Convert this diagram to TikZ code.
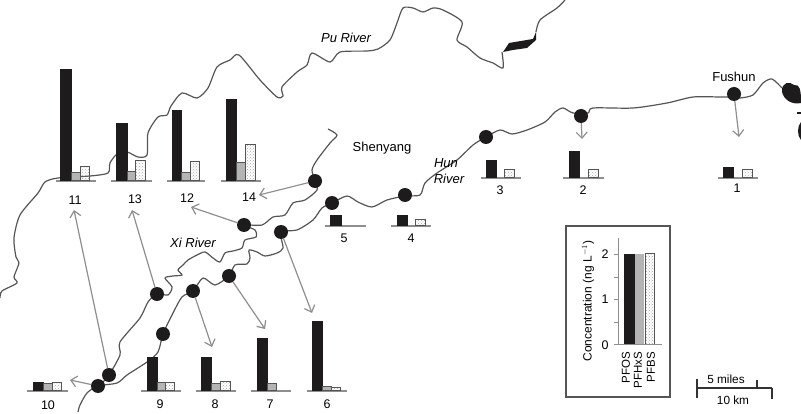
\documentclass[tikz,border=0pt]{standalone}
\usepackage{fontspec}
\setmainfont{Liberation Sans}
\usetikzlibrary{arrows.meta,patterns}
\definecolor{barblack}{HTML}{1E1B1C}
\definecolor{bargray}{HTML}{B4B4B4}
\definecolor{rivercol}{HTML}{555555}
\definecolor{flowcol}{HTML}{8E8E8E}
\begin{document}
\begin{tikzpicture}[x=1pt,y=-1pt,
  site/.style={circle,fill=barblack,inner sep=0pt,minimum size=14pt},
  txt/.style={inner sep=0pt,font=\fontsize{12.5}{13}\selectfont},
  place/.style={txt,font=\fontsize{13}{14}\selectfont},
  rivername/.style={txt,font=\fontsize{13}{14}\selectfont\itshape},
  river/.style={draw=rivercol,line width=1.2pt,line join=round},
  flow/.style={draw=flowcol,line width=1.2pt,-{Straight Barb[length=6pt,width=11pt]}},
  base/.style={draw=flowcol,line width=1.2pt},
  pfos/.style={fill=barblack,draw=barblack,line width=.5pt},
  pfhxs/.style={fill=bargray,draw=rivercol,line width=.6pt},
  pfbs/.style={pattern=crosshatch dots,pattern color=gray!70,draw=rivercol,line width=1pt}
  ]
    \useasboundingbox (0,0) rectangle (801,414);

    % rivers
    \draw[river] plot[smooth,tension=.45] coordinates {(0,298) (2,291) (17,283) (14,277) (19,263) (16,257) (14,238) (20,215) (38,193) (45,182) (58,178) (90,176) (108,173) (110,163) (117,154) (127,152) (138,157) (147,155) (148,133) (158,117) (167,115) (171,106) (182,93) (197,98) (208,88) (217,67) (230,60) (239,55) (260,80) (277,97) (283,96) (282,87) (297,72) (307,65) (312,53) (330,62) (340,52) (367,51) (378,49) (390,40) (397,23) (403,8) (413,8) (423,12) (433,8) (443,10) (462,22) (457,40) (467,47) (480,58) (493,63) (503,68) (502,52)};
    \draw[river] plot[smooth,tension=.45] coordinates {(536,32) (540,20) (557,8) (565,0)};
    \fill[barblack] (503,52) -- (509,43) -- (533,39) -- (536,32) -- (536,40) -- (527,48) -- (513,50) -- cycle;
    \draw[river] plot[smooth,tension=.45] coordinates {(782,88) (772,79) (763,83) (753,95) (740,98) (734,97) (720,97) (693,97) (667,103) (633,108) (593,108) (588,113) (573,113) (563,108) (555,112) (545,122) (527,130) (512,134) (500,130) (486,137) (473,145) (457,160) (437,173) (425,183) (420,195) (405,196) (387,200) (372,207) (358,202) (347,196) (332,203) (322,208) (313,220) (297,230) (281,232) (283,248) (277,253) (265,256) (257,252) (249,250) (250,258) (247,264) (235,265) (229,276) (215,285) (203,278) (193,291) (182,297) (172,315) (163,334) (158,352) (147,362) (127,375) (117,383) (98,386) (87,393) (80,405) (78,412)};
    \draw[river] plot[smooth,tension=.45] coordinates {(328,129) (337,135) (330,143) (317,160) (312,170) (315,181) (317,190) (305,200) (293,203) (285,215) (273,217) (262,225) (244,225) (255,230) (256,237) (245,240) (242,248) (233,251) (225,253) (220,262) (213,258) (205,252) (197,255) (188,260) (183,265) (178,270) (182,275) (173,276) (165,278) (172,287) (168,295) (157,294) (148,302) (140,318) (120,342) (120,355) (109,375) (100,385)};
    \fill[barblack] (782,92) .. controls (781,82) and (790,81) .. (794,85) .. controls (800,84) and (801,90) .. (801,103) .. controls (792,105) and (784,100) .. (782,92) -- cycle;
    \fill[barblack] (797,112) rectangle (801,114);
    \fill[barblack] (801,122) .. controls (797,126) and (797,136) .. (801,140) -- cycle;

    % stations
    \node[site] (s1) at (734,94) {};
    \node[site] (s2) at (581,116) {};
    \node[site] (s3) at (486,137) {};
    \node[site] (s4) at (405,195) {};
    \node[site] (s5) at (332,203) {};
    \node[site] (s6) at (281,232) {};
    \node[site] (s7) at (229,276) {};
    \node[site] (s8) at (193,291) {};
    \node[site] (s9) at (163,334) {};
    \node[site] (s10) at (98,386) {};
    \node[site] (s11) at (109,375) {};
    \node[site] (s12) at (244,225) {};
    \node[site] (s13) at (157,294) {};
    \node[site] (s14) at (315,181) {};

    % arrow ends
    \coordinate (e1) at (739,137);
    \coordinate (e2) at (582,139);
    \coordinate (e6) at (312,313);
    \coordinate (e7) at (265,329);
    \coordinate (e8) at (212,347);
    \coordinate (e10) at (70,380);
    \coordinate (e11) at (74,210);
    \coordinate (e12) at (191,207);
    \coordinate (e13) at (132,210);
    \coordinate (e14) at (259,195);
    \draw[flow] (s1) -- (e1);
    \draw[flow] (s2) -- (e2);
    \draw[flow] (s6) -- (e6);
    \draw[flow] (s7) -- (e7);
    \draw[flow] (s8) -- (e8);
    \draw[flow] (s10) -- (e10);
    \draw[flow] (s11) -- (e11);
    \draw[flow] (s12) -- (e12);
    \draw[flow] (s13) -- (e13);
    \draw[flow] (s14) -- (e14);

    % bars, top row
    \draw[base] (56,181) -- (96,181);
    \draw[pfos] (60,180.5) rectangle (71,69);
    \draw[pfhxs] (71,180.5) rectangle (80,172);
    \draw[pfbs] (80,180.5) rectangle (89,167);
    \draw[base] (111,181) -- (152,181);
    \draw[pfos] (116,180.5) rectangle (127,123);
    \draw[pfhxs] (127,180.5) rectangle (135,171);
    \draw[pfbs] (135,180.5) rectangle (145,161);
    \draw[base] (167,181) -- (205,181);
    \draw[pfos] (172,180.5) rectangle (181,110);
    \draw[pfhxs] (181,180.5) rectangle (190,172);
    \draw[pfbs] (190,180.5) rectangle (199,162);
    \draw[base] (221,181) -- (261,181);
    \draw[pfos] (226,180.5) rectangle (236,99);
    \draw[pfhxs] (236,180.5) rectangle (245,162);
    \draw[pfbs] (245,180.5) rectangle (255,145);
    \draw[base] (481,178) -- (521,178);
    \draw[pfos] (486,177.5) rectangle (496,160);
    \draw[pfbs] (504,177.5) rectangle (514,170);
    \draw[base] (563,178) -- (604,178);
    \draw[pfos] (569,177.5) rectangle (579,151);
    \draw[pfbs] (588,177.5) rectangle (598,170);
    \draw[base] (718,178) -- (758,178);
    \draw[pfos] (723,177.5) rectangle (733,167);
    \draw[pfbs] (742,177.5) rectangle (752,170);
    \draw[base] (325,226) -- (366,226);
    \draw[pfos] (330,225.5) rectangle (341,215);
    \draw[base] (391,226) -- (431,226);
    \draw[pfos] (397,225.5) rectangle (407,215);
    \draw[pfbs] (415,225.5) rectangle (425,220);

    % bars, bottom row
    \draw[base] (27,391) -- (68,391);
    \draw[pfos] (33,390.5) rectangle (43,382);
    \draw[pfhxs] (43,390.5) rectangle (52,383);
    \draw[pfbs] (52,390.5) rectangle (61,382);
    \draw[base] (141,391) -- (181,391);
    \draw[pfos] (147,390.5) rectangle (157,357);
    \draw[pfhxs] (157,390.5) rectangle (165,382);
    \draw[pfbs] (165,390.5) rectangle (174,382);
    \draw[base] (196,391) -- (236,391);
    \draw[pfos] (201,390.5) rectangle (211,357);
    \draw[pfhxs] (211,390.5) rectangle (220,383);
    \draw[pfbs] (220,390.5) rectangle (230,381);
    \draw[base] (251,391) -- (291,391);
    \draw[pfos] (257,390.5) rectangle (267,338);
    \draw[pfhxs] (267,390.5) rectangle (276,383);
    \draw[base] (307,391) -- (347,391);
    \draw[pfos] (312,390.5) rectangle (322,321);
    \draw[pfhxs] (322,390.5) rectangle (331,386);
    \draw[pfbs] (331,390.5) rectangle (340,387);

    % station numbers
    \node[txt] (n1) at (737,188) {1};
    \node[txt] (n2) at (583,190) {2};
    \node[txt] (n3) at (500,190) {3};
    \node[txt] (n4) at (411,238) {4};
    \node[txt] (n5) at (344,238) {5};
    \node[txt] (n6) at (327,404) {6};
    \node[txt] (n7) at (270,404) {7};
    \node[txt] (n8) at (215,404) {8};
    \node[txt] (n9) at (160,404) {9};
    \node[txt] (n10) at (48,405) {10};
    \node[txt] (n11) at (75,200) {11};
    \node[txt] (n12) at (187,198) {12};
    \node[txt] (n13) at (135,199) {13};
    \node[txt] (n14) at (249,197) {14};

    % names on the map
    \node[rivername] (pu) at (346,38) {Pu River};
    \node[rivername] (xi) at (193,243) {Xi River};
    \node[rivername] (hun) at (446,163) {Hun};
    \node[rivername] (hunb) at (449,179) {River};
    \node[place] (shenyang) at (382,148) {Shenyang};
    \node[place] (fushun) at (734,77) {Fushun};

    % legend
    \draw[draw=rivercol,line width=1.3pt] (566,226) rectangle (670,397);
    \draw[pfos] (624,344) rectangle (634,254);
    \draw[pfhxs,draw=none] (635,344) rectangle (644,254);
    \draw[pfbs] (645,344) rectangle (654,254);
    \draw[draw=flowcol,line width=.8pt] (618,238) -- (618,344);
    \draw[draw=flowcol,line width=.8pt] (614,344) -- (662,344);
    \draw[draw=flowcol,line width=.8pt] (614,254) -- (618,254) (614,277) -- (618,277) (614,299) -- (618,299) (614,322) -- (618,322);
    \node[txt] (t2) at (605,254) {2};
    \node[txt] (t1) at (605,299) {1};
    \node[txt] (t0) at (605,345) {0};
    \node[txt,font=\fontsize{12}{13}\selectfont,rotate=90] (ylab) at (588,301) {Concentration (ng L$^{-1}$)};
    \node[txt,font=\fontsize{11.5}{12}\selectfont,rotate=90,anchor=east] (k1) at (626,352) {PFOS};
    \node[txt,font=\fontsize{11.5}{12}\selectfont,rotate=90,anchor=east] (k2) at (638,352) {PFHxS};
    \node[txt,font=\fontsize{11.5}{12}\selectfont,rotate=90,anchor=east] (k3) at (651,352) {PFBS};

    % scale bar
    \draw[draw=rivercol!60!black,line width=1.2pt] (697,379) -- (697,398) (697,388) -- (772,388) (757,380) -- (757,388) (772,388) -- (772,399);
    \node[txt,font=\fontsize{11.8}{12}\selectfont] (miles) at (726,379) {5 miles};
    \node[txt,font=\fontsize{11.8}{12}\selectfont] (km) at (733,400) {10 km};
\end{tikzpicture}
\end{document}
